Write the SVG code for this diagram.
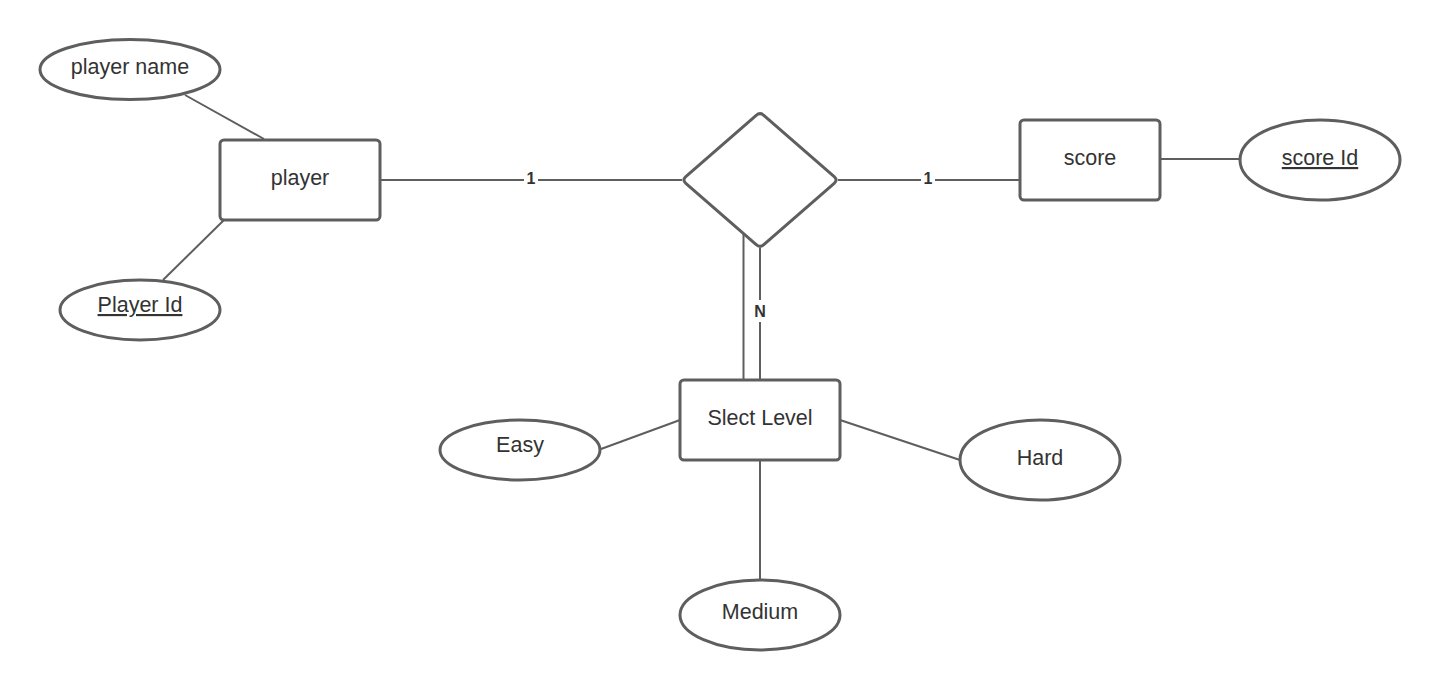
<svg xmlns="http://www.w3.org/2000/svg" width="1440" height="690" viewBox="0 0 1440 690">
<style>
.shape{fill:#fff;stroke:#5e5e5e;stroke-width:3}
.conn{stroke:#5e5e5e;stroke-width:2;fill:none}
.t{font-family:"Liberation Sans",Arial,sans-serif;font-size:21.5px;fill:#333;text-anchor:middle}
.u{text-decoration:underline}
.lbl{font-family:"Liberation Sans",Arial,sans-serif;font-size:16px;font-weight:bold;fill:#333;text-anchor:middle}
</style>
<rect width="1440" height="690" fill="#fff"/>
<g id="connectors">
<line class="conn" x1="185" y1="95" x2="264" y2="139"/>
<line class="conn" x1="163" y1="280" x2="224" y2="220"/>
<line class="conn" x1="381" y1="180" x2="682" y2="180"/>
<line class="conn" x1="838" y1="180" x2="1019" y2="180"/>
<line class="conn" x1="1161" y1="159" x2="1240" y2="159"/>
<line class="conn" x1="743.5" y1="234" x2="743.5" y2="380"/>
<line class="conn" x1="760" y1="248" x2="760" y2="380"/>
<line class="conn" x1="601" y1="449" x2="680" y2="420"/>
<line class="conn" x1="840" y1="420" x2="960" y2="460"/>
<line class="conn" x1="760" y1="460" x2="760" y2="580"/>
<rect x="524" y="169" width="14" height="20" fill="#fff"/>
<text class="lbl" x="531" y="184">1</text>
<rect x="921" y="169" width="14" height="20" fill="#fff"/>
<text class="lbl" x="928" y="184">1</text>
<rect x="752" y="300" width="16" height="22" fill="#fff"/>
<text class="lbl" x="760" y="317">N</text>
</g>
<g id="player_name">
<ellipse class="shape" cx="130" cy="69.5" rx="90" ry="30"/>
<text class="t" x="130" y="74">player name</text>
</g>
<g id="player">
<rect class="shape" x="220" y="140" width="160" height="80" rx="4"/>
<text class="t" x="300" y="185">player</text>
</g>
<g id="player_id">
<ellipse class="shape" cx="140" cy="310" rx="80" ry="30"/>
<text class="t u" x="140" y="312">Player Id</text>
</g>
<g id="relationship">
<path class="shape" d="M756.2,115.3 Q760,112 763.8,115.3 L834.2,176.7 Q838,180 834.2,183.3 L763.8,244.7 Q760,248 756.2,244.7 L685.8,183.3 Q682,180 685.8,176.7 Z" stroke-linejoin="round"/>
</g>
<g id="score">
<rect class="shape" x="1020" y="120" width="140" height="80" rx="4"/>
<text class="t" x="1090" y="165">score</text>
</g>
<g id="score_id">
<ellipse class="shape" cx="1320" cy="160" rx="80" ry="40"/>
<text class="t u" x="1320" y="165">score Id</text>
</g>
<g id="slect_level">
<rect class="shape" x="680" y="380" width="160" height="80" rx="4"/>
<text class="t" x="760" y="425">Slect Level</text>
</g>
<g id="easy">
<ellipse class="shape" cx="520" cy="450" rx="80" ry="30"/>
<text class="t" x="520" y="452">Easy</text>
</g>
<g id="hard">
<ellipse class="shape" cx="1040" cy="460" rx="80" ry="40"/>
<text class="t" x="1040" y="465">Hard</text>
</g>
<g id="medium">
<ellipse class="shape" cx="760" cy="615" rx="80" ry="35"/>
<text class="t" x="760" y="619">Medium</text>
</g>
</svg>
